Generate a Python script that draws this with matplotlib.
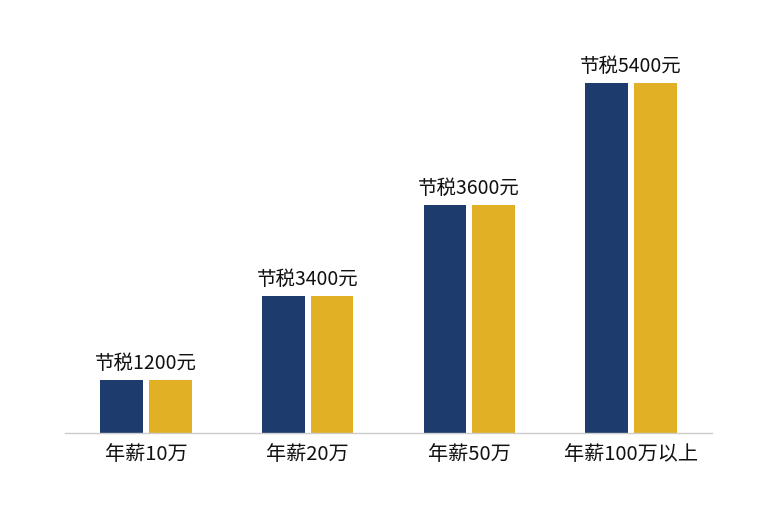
import matplotlib
matplotlib.use("Agg")
import matplotlib.pyplot as plt
import numpy as np

plt.rcParams['font.family'] = ['Noto Sans CJK SC', 'DejaVu Sans']

# --- Data ---
categories = ["年薪10万", "年薪20万", "年薪50万", "年薪100万以上"]
savings_labels = ["节税1200元", "节税3400元", "节税3600元", "节税5400元"]
series_a = [53, 137, 228, 350]   # bar heights
series_b = [53, 137, 228, 350]

navy = "#1d3b6c"
gold = "#e2b025"

fig = plt.figure(figsize=(7.68, 5.12), dpi=100)
ax = fig.add_axes([65 / 768, 1 - 433 / 512, 647 / 768, 413 / 512])

x = np.arange(len(categories))
w = 0.265
off = 0.151
ax.bar(x - off, series_a, width=w, color=navy)
ax.bar(x + off, series_b, width=w, color=gold)

for xi, h, lab in zip(x, series_a, savings_labels):
    ax.text(xi, h + 6, lab, ha="center", va="bottom", fontsize=14, color="#111111")

ax.set_xlim(-0.5, 3.5)
ax.set_ylim(0, 413)
ax.set_xticks(x)
ax.set_xticklabels(categories, fontsize=14.5, color="#111111")
ax.tick_params(axis="x", length=0, pad=8)
ax.set_yticks([])
for s in ["top", "right", "left"]:
    ax.spines[s].set_visible(False)
ax.spines["bottom"].set_color("#cccccc")
ax.spines["bottom"].set_linewidth(1)

plt.savefig("out.png", dpi=100)
